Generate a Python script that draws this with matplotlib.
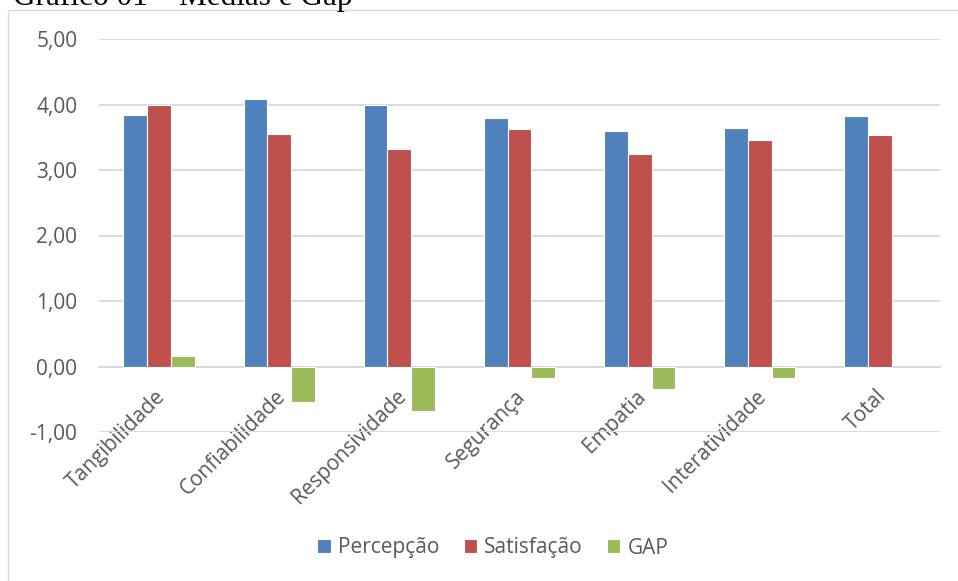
import numpy as np
import matplotlib.pyplot as plt
import matplotlib.transforms as mtransforms
from matplotlib.patches import Rectangle

categorias = ['Tangibilidade', 'Confiabilidade', 'Responsividade', 'Segurança',
              'Empatia', 'Interatividade', 'Total']
percepcao = [3.84, 4.09, 4.00, 3.79, 3.59, 3.64, 3.83]
satisfacao = [4.00, 3.55, 3.32, 3.62, 3.24, 3.46, 3.53]
gap = [0.16, -0.54, -0.68, -0.17, -0.35, -0.18, np.nan]
y_ticks = [-1, 0, 1, 2, 3, 4, 5]

plt.rcParams['font.family'] = ['Open Sans', 'DejaVu Sans']
cinza = '#595959'

fig = plt.figure(figsize=(9.58, 5.81), dpi=100)

# moldura do gráfico
fig.patches.append(Rectangle((8 / 958, -0.05), 1.0, 1 - 10 / 581 + 0.05,
                             transform=fig.transFigure, fill=False,
                             edgecolor='#D9D9D9', linewidth=1.0))

fig.text(13 / 958, 1 - 5.5 / 581, 'Gráfico 01 – Médias e Gap',
         family='Liberation Serif', fontsize=22.5, color='black',
         ha='left', va='baseline')

ax = fig.add_axes([99 / 958, 1 - 432 / 581, 841 / 958, 393 / 581])

x = np.arange(len(categorias))
w = 0.198
ax.bar(x - w, percepcao, w, color='#4F81BD', edgecolor='white', linewidth=0.8,
       label='Percepção', zorder=3)
ax.bar(x, satisfacao, w, color='#C0504D', edgecolor='white', linewidth=0.8,
       label='Satisfação', zorder=3)
ax.bar(x + w, gap, w, color='#9BBB59', edgecolor='white', linewidth=0.8,
       label='GAP', zorder=3)

ax.set_xlim(-0.5, len(categorias) - 0.5)
ax.set_ylim(-1, 5)
ax.set_yticks(y_ticks)
ax.set_yticklabels([f'{v:.2f}'.replace('.', ',') for v in y_ticks])
ax.yaxis.grid(True, color='#D9D9D9', linewidth=1.3, zorder=0)

# eixo das categorias cruza em zero
ax.spines['bottom'].set_position(('data', 0))
ax.spines['bottom'].set_color('#D9D9D9')
ax.spines['bottom'].set_linewidth(1.3)
ax.spines['bottom'].set_zorder(2)
for s in ['top', 'left', 'right']:
    ax.spines[s].set_visible(False)

ax.set_xticks(x)
ax.set_xticklabels(categorias, rotation=45, ha='right', rotation_mode='anchor')
ax.tick_params(axis='x', length=0, pad=14, labelsize=15, labelcolor=cinza)
ax.tick_params(axis='y', length=0, pad=15.5, labelsize=15, labelcolor=cinza)

desloc = mtransforms.ScaledTranslation(-4 / 100, 0, fig.dpi_scale_trans)
for lbl in ax.get_xticklabels():
    lbl.set_transform(lbl.get_transform() + desloc)

fig.legend(loc='center', bbox_to_anchor=(493 / 958, 1 - 548 / 581), ncol=3,
           frameon=False, fontsize=15, labelcolor=cinza,
           handlelength=0.65, handleheight=0.65, handletextpad=0.35,
           columnspacing=1.15)

fig.savefig('out.png', dpi=100)
